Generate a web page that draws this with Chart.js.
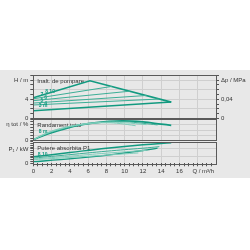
<!DOCTYPE html>
<html>
<head>
<meta charset="utf-8">
<script src="https://cdn.jsdelivr.net/npm/chart.js@4.4.1/dist/chart.umd.min.js"></script>
<style>
html, body { margin: 0; padding: 0; background: #fff; }
#wrap { position: relative; width: 250px; height: 250px; overflow: hidden; }
#band { position: absolute; left: 0; top: 70px; width: 250px; height: 108px; background: #e8e8e8; }
canvas { position: absolute; left: 0; top: 0; }
</style>
</head>
<body>
<div id="wrap">
  <div id="band"></div>
  <canvas id="cH" width="250" height="250"></canvas>
  <canvas id="cE" width="250" height="250"></canvas>
  <canvas id="cP" width="250" height="250"></canvas>
</div>
<script>
// pump curves - head / efficiency / power input
const qMax = 20;

// head H (m): max curve + setpoint lines from Q=0 to their end on the max curve
const headMaxQ = [0, 6.2, 15.1];
const headMaxH = [4.3, 7.9, 3.4];
const headSetEndQ = [8.6, 10.6, 12.4, 13.8, 15.1];
const headSetStartH = [4.1, 3.7, 3.2, 2.8, 1.6];
const headSetEndH = [6.7, 5.7, 4.8, 4.05, 3.4];

// efficiency (%)
const effQ1 = [0, 1, 2, 3, 4.4, 6, 8, 9.8, 12, 14, 15.1];
const effE1 = [2, 9, 15, 20, 27, 32, 35.5, 37, 35, 31, 28.8];
const effQ2 = [0, 1, 2, 3, 4, 6, 8, 10, 12, 13.6];
const effE2 = [2, 9.5, 16, 21, 25.5, 31.5, 35, 35.5, 32.5, 29.5];
const effQ3 = [0, 1, 2, 3, 4, 6, 8, 10, 12.4];
const effE3 = [2, 10, 17, 22, 26.5, 32, 34.5, 33.5, 30];
const effQ4 = [0, 1, 2, 3, 4, 6, 8, 9.5, 11.2];
const effE4 = [2, 11, 18, 23, 27, 32, 33.5, 32, 28];

// power input P1 (kW)
const powQ1 = [0, 4, 8, 12, 15.1];
const powP1 = [0.09, 0.15, 0.21, 0.258, 0.285];
const powQ2 = [0, 4, 8, 12, 13.8];
const powP2 = [0.072, 0.12, 0.168, 0.21, 0.231];
const powQ3 = [0, 4, 8, 12.4];
const powP3 = [0.06, 0.099, 0.141, 0.18];
const powQ4 = [0, 4, 8, 11.5];
const powP4 = [0.05, 0.081, 0.114, 0.144];
const powQ5 = [0, 3, 6, 9, 12, 13.6];
const powP5 = [0.022, 0.05, 0.085, 0.128, 0.178, 0.21];

// tick labels
const qLabels = ['0', '2', '4', '6', '8', '10', '12', '14', '16'];
const qTitle = 'Q / m³/h';
const hTitle = 'H / m';
const dpTitle = 'Δp / MPa';
const etaTitle = 'η tot / %';
const pTitle = 'P₁ / kW';

const dark = '#129a80';
const mid = '#3cae96';
const light = '#80cdbb';
const gridCol = '#cfcfcf';
const tickFont = { family: 'Liberation Sans, Arial, sans-serif', size: 6 };

function pts(xs, ys) { return xs.map((x, i) => ({ x: x, y: ys[i] })); }
function line(data, color, w, tension) {
  return { data: data, borderColor: color, borderWidth: w, pointRadius: 0, showLine: true,
           tension: tension === undefined ? 0.4 : tension, fill: false };
}
function stepTicks(max, step) {
  const t = [];
  for (let i = 0; i * step <= max + 1e-9; i++) t.push({ value: +(i * step).toFixed(4) });
  return t;
}

const framePlugin = {
  id: 'panel',
  beforeDatasetsDraw(chart, args, opts) {
    const a = chart.chartArea, ctx = chart.ctx;
    ctx.save();
    ctx.fillStyle = '#333';
    ctx.font = '6px Liberation Sans, Arial, sans-serif';
    ctx.textBaseline = 'middle';
    ctx.fillText(opts.title, a.left + 4, a.top + 6.5);
    ctx.restore();
  },
  afterDatasetsDraw(chart, args, opts) {
    const a = chart.chartArea, ctx = chart.ctx;
    ctx.save();
    ctx.fillStyle = dark;
    ctx.font = 'bold 5px Liberation Sans, Arial, sans-serif';
    ctx.textBaseline = 'middle';
    (opts.marks || []).forEach(m => {
      ctx.fillText(m.t, chart.scales.x.getPixelForValue(m.x), chart.scales.y.getPixelForValue(m.y));
    });
    ctx.strokeStyle = '#5a5a5a';
    ctx.lineWidth = 1;
    ctx.strokeRect(Math.round(a.left) + 0.5, Math.round(a.top) + 0.5, Math.round(a.right - a.left), Math.round(a.bottom - a.top));
    ctx.restore();
  }
};

function xScale(showLabels) {
  return {
    type: 'linear', min: 0, max: qMax,
    border: { display: false },
    afterBuildTicks: s => {
      const t = stepTicks(qMax, 0.5);
      if (showLabels) t.push({ value: 18.6 });
      s.ticks = t;
    },
    afterFit: s => { s.height = showLabels ? 15 : 0; },
    grid: {
      drawTicks: showLabels, tickLength: 3,
      color: c => (c.tick && c.tick.value % 2 === 0 && c.tick.value > 0 && c.tick.value < qMax) ? gridCol : 'rgba(0,0,0,0)',
      tickColor: c => (c.tick && c.tick.value % 0.5 === 0 && c.tick.value <= 19.5) ? '#555' : 'rgba(0,0,0,0)'
    },
    ticks: {
      display: showLabels, font: tickFont, color: '#333', padding: 1, maxRotation: 0, autoSkip: false,
      callback: v => {
        if (v === 18.6) return qTitle;
        if (v % 2 === 0 && v <= 16) return qLabels[v / 2];
        return '';
      }
    }
  };
}

function yScale(max, step, labelFn, majorFn, pos, width) {
  return {
    type: 'linear', min: 0, max: max, position: pos || 'left',
    border: { display: false },
    afterBuildTicks: s => { s.ticks = stepTicks(max, step); },
    afterFit: s => { s.width = width; },
    grid: {
      tickLength: 3,
      color: c => (c.tick && majorFn(c.tick.value)) ? gridCol : 'rgba(0,0,0,0)',
      tickColor: '#555'
    },
    ticks: { font: tickFont, color: '#333', padding: 2, autoSkip: false, callback: labelFn }
  };
}

function baseOptions(top, bottom, right) {
  return {
    responsive: false, animation: false,
    layout: { padding: { top: top, bottom: bottom, left: 0, right: right } },
    plugins: { legend: { display: false }, tooltip: { enabled: false } }
  };
}

// head panel (straight segments)
const headSets = headSetEndQ.map((q, i) =>
  line(pts([0, q], [headSetStartH[i], headSetEndH[i]]), i === headSetEndQ.length - 1 ? dark : mid, i === headSetEndQ.length - 1 ? 1.5 : 1, 0));
const optH = baseOptions(75, 131.7, 0);
optH.scales = {
  x: xScale(false),
  y: yScale(9.1, 1, v => v === 0 ? '0' : v === 4 ? '4' : v === 8 ? hTitle : '', v => v > 0 && v % 2 === 0, 'left', 33.3),
  dp: yScale(0.091, 0.01, v => {
    const k = Math.round(v * 100);
    return k === 0 ? '0' : k === 4 ? '0,04' : k === 8 ? dpTitle : '';
  }, v => false, 'right', 34)
};
optH.plugins.panel = {
  title: 'Inalt. de pompare',
  marks: [{ t: '8 10', x: 1.3, y: 5.7 }, { t: '7', x: 0.8, y: 4.9 }, { t: '6', x: 1.2, y: 4.3 },
          { t: '5', x: 0.8, y: 3.7 }, { t: '4', x: 1.2, y: 3.1 }, { t: '3 m', x: 0.6, y: 2.6 }]
};
new Chart(document.getElementById('cH'), {
  type: 'scatter',
  data: { datasets: headSets.concat([line(pts(headMaxQ, headMaxH), dark, 1.6, 0)]) },
  options: optH,
  plugins: [framePlugin]
});

// efficiency panel
const optE = baseOptions(119.3, 109.3, 34);
optE.scales = {
  x: xScale(false),
  y: yScale(40, 5, v => v === 0 ? '0' : v === 30 ? etaTitle : '', v => v > 0 && v % 10 === 0, 'left', 33.3)
};
optE.plugins.panel = { title: 'Randament total', marks: [{ t: '8 m', x: 0.6, y: 17 }] };
new Chart(document.getElementById('cE'), {
  type: 'scatter',
  data: { datasets: [
    line(pts(effQ4, effE4), light, 1),
    line(pts(effQ3, effE3), light, 1),
    line(pts(effQ2, effE2), mid, 1),
    line(pts(effQ1, effE1), dark, 1.8)
  ] },
  options: optE,
  plugins: [framePlugin]
});

// power panel
const optP = baseOptions(141.7, 71.7, 34);
optP.scales = {
  x: xScale(true),
  y: yScale(0.3, 0.025, v => {
    const k = Math.round(v * 1000);
    return k === 0 ? '0' : k === 200 ? pTitle : '';
  }, v => { const k = Math.round(v * 1000); return k === 100 || k === 200; }, 'left', 33.3)
};
optP.plugins.panel = { title: 'Putere absorbita P1', marks: [{ t: '8 10', x: 0.5, y: 0.125 }] };
new Chart(document.getElementById('cP'), {
  type: 'scatter',
  data: { datasets: [
    line(pts(powQ4, powP4), light, 1),
    line(pts(powQ3, powP3), light, 1),
    line(pts(powQ2, powP2), mid, 1),
    line(pts(powQ5, powP5), dark, 1.3),
    line(pts(powQ1, powP1), dark, 1.5)
  ] },
  options: optP,
  plugins: [framePlugin]
});
</script>
</body>
</html>
